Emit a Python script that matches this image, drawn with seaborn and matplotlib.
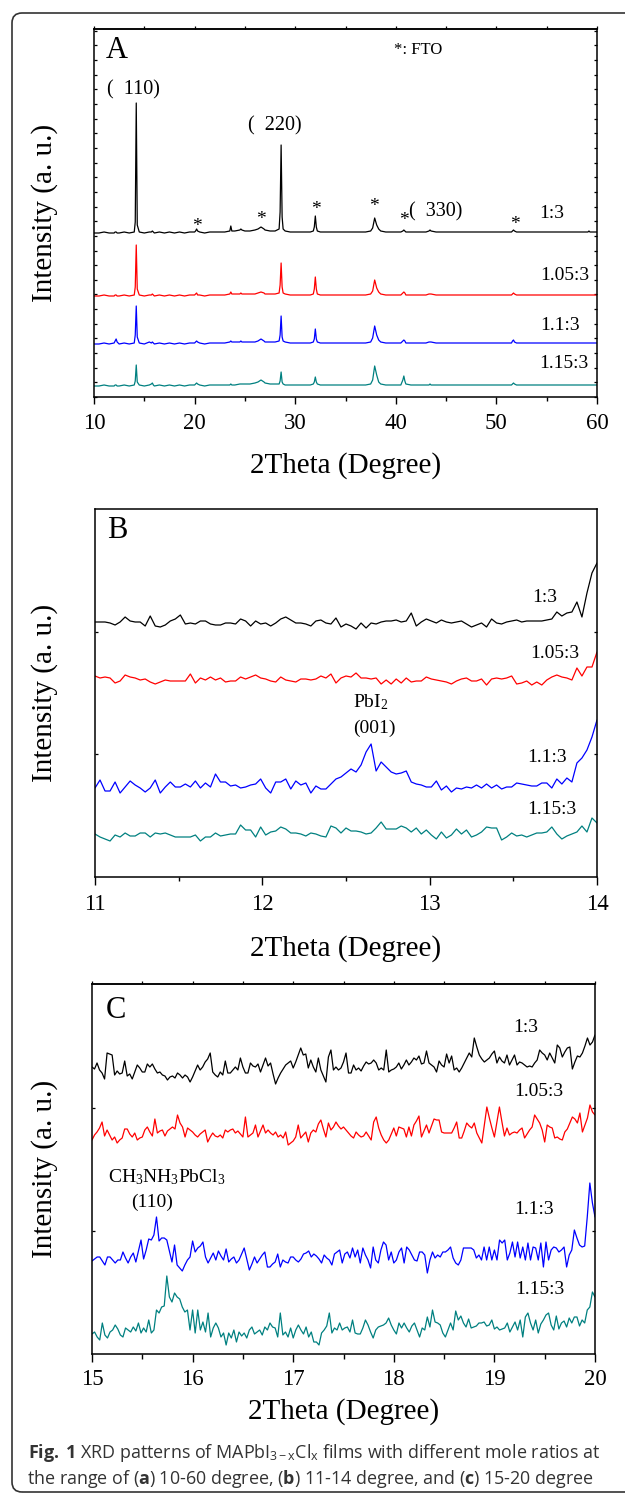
import numpy as np
import pandas as pd
import matplotlib
matplotlib.use("Agg")
import matplotlib.pyplot as plt
import seaborn as sns
from matplotlib.ticker import MultipleLocator, FixedLocator, NullFormatter
from matplotlib.patches import FancyBboxPatch
from matplotlib.transforms import IdentityTransform

# ---------------- data ----------------
ratios = ["1:3", "1.05:3", "1.1:3", "1.15:3"]
colors = ["#000000", "#ff0000", "#0000ff", "#008080"]

# Panel A: 10-60 degree
A_theta = [
    10.0, 10.5, 11.0, 11.5, 12.0, 12.1, 12.2, 12.3, 12.5, 13.0, 13.5, 14.0, 14.1, 14.2, 14.3, 14.5, 15.0, 15.5, 15.7, 15.8, 15.9, 16.0, 16.5, 17.0, 17.5, 18.0, 18.5, 19.0, 19.5,
    20.0, 20.1, 20.2, 20.3, 20.5, 21.0, 21.5, 22.0, 22.5, 23.0, 23.5, 23.6, 23.7, 24.0, 24.5, 24.6, 24.7, 25.0, 25.5, 26.0, 26.3, 26.6, 26.9, 27.0, 27.5, 28.0, 28.4, 28.5, 28.6, 28.7, 28.8, 29.0, 29.5,
    30.0, 30.5, 31.0, 31.5, 31.8, 31.9, 32.0, 32.1, 32.2, 32.5, 33.0, 33.5, 34.0, 34.5, 35.0, 35.5, 36.0, 36.5, 37.0, 37.5, 37.7, 37.9, 38.1, 38.3, 38.5, 39.0, 39.5,
    40.0, 40.5, 40.7, 40.8, 40.9, 41.0, 41.5, 42.0, 42.5, 43.0, 43.3, 43.4, 43.5, 44.0, 44.5, 45.0, 45.5, 46.0, 46.5, 47.0, 47.5, 48.0, 48.5, 49.0, 49.5,
    50.0, 50.5, 51.0, 51.5, 51.6, 51.7, 51.8, 52.0, 52.5, 53.0, 53.5, 54.0, 54.5, 55.0, 55.5, 56.0, 56.5, 57.0, 57.5, 58.0, 58.5, 59.0, 59.1, 59.2, 59.3, 59.5, 60.0,
]
A_13 = [
    164, 164, 165, 164, 164, 165, 165, 164, 164, 165, 164, 165, 175, 294, 172, 165, 164, 165, 165, 166, 165, 164, 165, 164, 165, 164, 165, 164, 165,
    165, 166, 168, 166, 165, 164, 165, 165, 165, 165, 166, 171, 166, 166, 167, 168, 167, 166, 166, 167, 168, 170, 168, 167, 166, 166, 168, 185, 252, 180, 168, 166, 165,
    165, 165, 165, 165, 166, 170, 181, 170, 166, 165, 165, 165, 165, 165, 165, 165, 165, 165, 165, 166, 169, 179, 172, 168, 166, 165, 165,
    165, 165, 166, 167, 166, 165, 165, 165, 165, 165, 166, 167, 166, 165, 165, 165, 165, 165, 165, 165, 165, 165, 165, 165, 165,
    165, 165, 165, 165, 166, 167, 166, 165, 165, 165, 165, 165, 165, 165, 165, 165, 165, 165, 165, 165, 165, 165, 165, 166, 165, 165, 165,
]
A_105 = [
    101, 101, 102, 101, 101, 102, 102, 101, 101, 102, 101, 102, 110, 152, 108, 102, 101, 102, 102, 103, 102, 101, 102, 101, 102, 101, 102, 101, 102,
    102, 103, 104, 102, 102, 101, 102, 102, 102, 102, 103, 105, 103, 103, 103, 104, 103, 103, 103, 103, 104, 105, 104, 103, 103, 103, 104, 112, 134, 110, 104, 103, 102,
    102, 102, 102, 102, 103, 108, 120, 108, 103, 102, 102, 102, 102, 102, 102, 102, 102, 102, 102, 103, 106, 117, 109, 105, 103, 102, 102,
    102, 102, 104, 105, 104, 102, 102, 102, 102, 102, 103, 103, 103, 102, 102, 102, 102, 102, 102, 102, 102, 102, 102, 102, 102,
    102, 102, 102, 102, 103, 104, 103, 102, 102, 102, 102, 102, 102, 102, 102, 102, 102, 102, 102, 102, 102, 102, 102, 102, 102, 102, 102,
]
A_11 = [
    53, 53, 54, 53, 54, 56, 58, 55, 53, 54, 53, 54, 62, 91, 60, 54, 53, 55, 54, 55, 54, 53, 54, 53, 54, 53, 54, 53, 54,
    54, 55, 56, 55, 54, 53, 54, 54, 54, 54, 55, 56, 55, 55, 55, 56, 55, 55, 55, 55, 56, 58, 56, 55, 55, 55, 56, 62, 81, 60, 56, 55, 54,
    54, 54, 54, 54, 55, 58, 68, 58, 55, 54, 54, 54, 54, 54, 54, 54, 54, 54, 54, 55, 59, 71, 62, 57, 55, 54, 54,
    54, 54, 56, 57, 56, 54, 54, 54, 54, 54, 55, 55, 55, 54, 54, 54, 54, 54, 54, 54, 54, 54, 54, 54, 54,
    54, 54, 54, 54, 56, 57, 55, 54, 54, 54, 54, 54, 54, 54, 54, 54, 54, 54, 54, 54, 54, 54, 54, 54, 54, 54, 54,
]
A_115 = [
    11, 11, 12, 11, 11, 12, 12, 11, 11, 12, 11, 12, 16, 32, 15, 12, 11, 12, 13, 14, 12, 11, 12, 11, 12, 11, 12, 11, 12,
    12, 13, 14, 13, 12, 11, 12, 12, 12, 12, 12, 13, 12, 12, 13, 13, 13, 13, 13, 14, 15, 17, 15, 14, 13, 13, 13, 16, 25, 15, 13, 12, 12,
    12, 12, 12, 12, 13, 15, 20, 15, 13, 12, 12, 12, 12, 12, 12, 12, 12, 12, 12, 13, 17, 31, 22, 15, 13, 12, 12,
    12, 12, 17, 21, 16, 13, 12, 12, 12, 12, 12, 13, 12, 12, 12, 12, 12, 12, 12, 12, 12, 12, 12, 12, 12,
    12, 12, 12, 12, 13, 14, 13, 12, 12, 12, 12, 12, 12, 12, 12, 12, 12, 12, 12, 12, 12, 12, 12, 12, 12, 12, 12,
]

# Panel B: 11-14 degree (uniform scan)
B_13 = [255, 255, 255, 254, 252, 255, 260, 256, 255, 255, 251, 261, 251, 250, 252, 256, 258, 262, 253, 254,
        253, 256, 256, 253, 252, 252, 254, 254, 253, 258, 256, 251, 256, 253, 254, 251, 254, 258, 260, 257,
        254, 254, 253, 251, 256, 257, 254, 253, 259, 250, 253, 251, 248, 254, 249, 254, 253, 255, 256, 256,
        257, 255, 256, 264, 251, 255, 258, 256, 254, 257, 255, 254, 255, 256, 253, 250, 252, 254, 250, 258,
        254, 253, 255, 256, 257, 255, 256, 256, 256, 256, 257, 258, 265, 261, 264, 265, 275, 260, 284, 304, 314]
B_105 = [201, 199, 200, 199, 194, 196, 202, 200, 199, 197, 198, 195, 193, 195, 197, 196, 196, 196, 196, 203,
         194, 199, 197, 200, 197, 199, 195, 196, 196, 200, 198, 200, 202, 199, 198, 196, 195, 200, 197, 196,
         195, 198, 198, 197, 198, 201, 199, 203, 194, 199, 201, 200, 204, 199, 199, 198, 199, 193, 197, 193,
         198, 194, 199, 195, 196, 196, 200, 198, 197, 196, 195, 193, 196, 198, 199, 196, 196, 198, 192, 198,
         199, 198, 199, 201, 193, 194, 196, 192, 195, 192, 197, 200, 202, 200, 199, 197, 209, 201, 210, 210, 225]
B_11 = [89, 97, 86, 86, 95, 84, 90, 96, 92, 89, 85, 89, 97, 84, 90, 95, 90, 90, 93, 90,
        96, 89, 94, 90, 103, 95, 95, 91, 92, 89, 90, 92, 93, 98, 89, 84, 95, 95, 98, 88,
        96, 92, 94, 84, 91, 88, 88, 93, 98, 100, 104, 108, 105, 112, 125, 133, 106, 115, 110, 105,
        103, 104, 106, 95, 93, 92, 90, 90, 96, 87, 91, 85, 89, 88, 90, 89, 92, 89, 93, 89,
        92, 88, 90, 90, 94, 93, 92, 91, 91, 94, 94, 89, 98, 93, 99, 95, 114, 119, 127, 140, 157]
B_115 = [43, 40, 38, 36, 42, 40, 44, 41, 41, 44, 44, 40, 44, 43, 44, 42, 40, 40, 40, 40,
         42, 36, 40, 40, 44, 41, 42, 43, 43, 52, 47, 47, 40, 50, 42, 45, 46, 50, 48, 44,
         44, 43, 41, 44, 43, 41, 40, 51, 49, 44, 49, 46, 46, 45, 43, 44, 49, 55, 48, 48,
         48, 51, 49, 45, 49, 43, 47, 42, 38, 45, 39, 42, 48, 43, 47, 40, 42, 45, 50, 49,
         49, 37, 40, 44, 41, 42, 40, 42, 44, 44, 45, 50, 43, 38, 41, 43, 45, 51, 45, 59, 54]

# Panel C: 15-20 degree (uniform scan)
C_13 = [287, 285, 291, 284, 281, 275, 301, 300, 299, 279, 283, 280, 281, 293, 278, 280, 275, 282, 289, 286,
        282, 282, 290, 287, 290, 285, 281, 282, 279, 278, 274, 277, 278, 276, 281, 279, 276, 279, 277, 272,
        277, 283, 289, 284, 287, 292, 295, 301, 282, 279, 277, 282, 279, 293, 281, 281, 284, 287, 284, 296,
        287, 281, 281, 291, 288, 287, 290, 282, 289, 296, 288, 291, 280, 270, 276, 281, 285, 289, 291, 293,
        286, 292, 299, 306, 299, 300, 286, 294, 287, 282, 296, 284, 278, 272, 297, 304, 284, 287, 284, 286,
        292, 301, 281, 281, 289, 284, 286, 283, 288, 292, 290, 291, 294, 291, 284, 286, 284, 304, 282, 284,
        285, 287, 291, 285, 289, 294, 289, 292, 296, 294, 298, 290, 291, 303, 291, 289, 287, 282, 293, 289,
        287, 300, 291, 298, 284, 286, 282, 286, 291, 296, 301, 297, 316, 307, 299, 295, 292, 294, 296, 300,
        303, 291, 297, 293, 291, 299, 289, 294, 299, 289, 292, 291, 289, 287, 288, 287, 291, 294, 304, 301,
        299, 294, 301, 296, 291, 309, 306, 297, 302, 306, 307, 285, 292, 298, 297, 301, 308, 316, 309, 312, 319]
C_105 = [214, 219, 222, 226, 232, 218, 224, 219, 214, 217, 211, 214, 216, 225, 225, 220, 217, 221, 214, 216,
         217, 224, 227, 222, 218, 235, 221, 223, 224, 218, 223, 225, 227, 225, 239, 231, 227, 217, 226, 224,
         222, 219, 217, 220, 222, 224, 212, 217, 221, 218, 217, 219, 216, 224, 222, 224, 225, 221, 223, 220,
         217, 237, 217, 219, 221, 229, 217, 223, 229, 221, 224, 221, 219, 222, 217, 219, 216, 222, 209, 211,
         213, 217, 229, 216, 219, 222, 212, 221, 224, 222, 230, 234, 225, 217, 231, 224, 227, 232, 228, 225,
         227, 224, 221, 218, 216, 222, 219, 217, 218, 222, 218, 214, 232, 237, 226, 219, 214, 211, 214, 220,
         226, 218, 227, 226, 225, 217, 227, 218, 229, 233, 238, 217, 223, 229, 221, 228, 235, 234, 234, 222,
         221, 221, 221, 221, 226, 232, 216, 216, 223, 231, 228, 226, 231, 221, 216, 211, 229, 247, 236, 226,
         217, 232, 247, 232, 218, 226, 219, 221, 222, 221, 224, 226, 216, 220, 224, 227, 239, 235, 231, 224,
         212, 229, 227, 226, 216, 217, 215, 214, 222, 225, 231, 237, 235, 231, 241, 222, 229, 236, 249, 242, 239]
C_11 = [93, 95, 97, 97, 93, 89, 97, 97, 94, 91, 94, 94, 102, 96, 91, 97, 101, 92, 103, 114,
        95, 104, 115, 114, 119, 137, 113, 116, 116, 114, 103, 92, 109, 89, 86, 83, 89, 94, 97, 113,
        102, 106, 108, 112, 97, 91, 96, 101, 94, 103, 98, 94, 105, 92, 95, 97, 91, 94, 100, 106,
        95, 84, 90, 97, 91, 95, 99, 102, 87, 87, 90, 92, 100, 87, 94, 92, 91, 97, 97, 94,
        92, 95, 100, 101, 103, 97, 100, 98, 95, 91, 99, 96, 94, 89, 100, 102, 104, 91, 100,
        102, 96, 106, 97, 104, 91, 106, 99, 94, 86, 107, 94, 91, 104, 112, 109, 94, 102, 91, 94,
        102, 106, 91, 107, 104, 99, 94, 93, 102, 102, 99, 81, 94, 102, 96, 99, 97, 102, 102, 104,
        107, 96, 91, 89, 94, 106, 106, 106, 106, 104, 96, 99, 94, 107, 94, 107, 94, 104, 94, 114,
        111, 114, 94, 101, 112, 97, 112, 96, 107, 94, 111, 94, 107, 106, 94, 111, 87, 112, 94, 104,
        107, 106, 102, 104, 107, 87, 99, 104, 124, 116, 109, 107, 108, 137, 171, 151, 137]
C_115 = [20, 22, 17, 14, 31, 19, 16, 22, 24, 29, 25, 19, 17, 26, 24, 22, 27, 23, 31, 21,
         26, 22, 34, 21, 24, 44, 41, 47, 48, 78, 57, 52, 61, 57, 55, 47, 42, 44, 24, 44,
         21, 44, 24, 32, 22, 41, 17, 26, 31, 26, 17, 21, 9, 21, 16, 24, 12, 22, 18, 21,
         16, 24, 27, 20, 22, 24, 19, 27, 24, 31, 27, 26, 17, 41, 19, 22, 17, 26, 16, 24,
         29, 24, 20, 27, 17, 22, 12, 12, 9, 21, 24, 28, 41, 21, 26, 24, 31, 24, 26,
         27, 22, 34, 21, 20, 20, 26, 34, 29, 22, 16, 24, 27, 28, 29, 31, 36, 29, 24, 20,
         31, 26, 31, 26, 22, 28, 31, 24, 17, 26, 24, 37, 27, 44, 32, 31, 29, 21, 17, 24,
         31, 24, 43, 34, 38, 31, 27, 35, 26, 27, 28, 31, 31, 32, 28, 29, 34, 25, 27, 24,
         25, 26, 31, 22, 27, 32, 24, 34, 17, 37, 41, 31, 24, 34, 21, 30, 34, 39, 41, 29,
         24, 38, 25, 31, 33, 27, 36, 31, 37, 37, 28, 34, 31, 44, 47, 62, 57]


def long_df(theta_lists, value_lists):
    frames = []
    for th, v, r in zip(theta_lists, value_lists, ratios):
        frames.append(pd.DataFrame({"theta": th, "intensity": v, "ratio": r}))
    return pd.concat(frames, ignore_index=True)


dfA = long_df([A_theta] * 4, [A_13, A_105, A_11, A_115])
dfB = long_df([np.linspace(11, 14, len(v)) for v in (B_13, B_105, B_11, B_115)],
              [B_13, B_105, B_11, B_115])
dfC = long_df([np.linspace(15, 20, len(v)) for v in (C_13, C_105, C_11, C_115)],
              [C_13, C_105, C_11, C_115])

# ---------------- style ----------------
sns.set_style("ticks")
plt.rcParams.update({
    "font.family": ["Liberation Serif", "DejaVu Serif"],
    "mathtext.fontset": "custom",
    "mathtext.rm": "Liberation Serif",
    "mathtext.it": "Liberation Serif:italic",
    "mathtext.bf": "Open Sans:bold",
    "axes.linewidth": 1.1,
    "axes.edgecolor": "black",
    "xtick.color": "black",
    "ytick.color": "black",
    "text.color": "black",
    "axes.facecolor": "white",
})

W, H = 625, 1495
fig = plt.figure(figsize=(W / 100, H / 100), dpi=100)
pal = dict(zip(ratios, colors))


def add_axes_px(l, t, r, b):
    return fig.add_axes([l / W, 1 - b / H, (r - l) / W, (b - t) / H])


axA = add_axes_px(94, 29, 597, 397)
axB = add_axes_px(95, 509, 597, 877)
axC = add_axes_px(92, 984, 595, 1354)

for ax, df in ((axA, dfA), (axB, dfB), (axC, dfC)):
    sns.lineplot(data=df, x="theta", y="intensity", hue="ratio", palette=pal,
                 estimator=None, sort=False, legend=False, lw=0.9, ax=ax)
    ax.set_xlabel("")
    ax.set_ylabel("")
    for s in ax.spines.values():
        s.set_visible(True)
        s.set_linewidth(1.1)

# --- Panel A axes ---
axA.set_xlim(10, 60)
axA.set_ylim(0, 368)
axA.xaxis.set_major_locator(MultipleLocator(10))
axA.xaxis.set_minor_locator(MultipleLocator(5))
axA.yaxis.set_major_locator(FixedLocator(np.arange(0, 368, 14.65)))
axA.yaxis.set_major_formatter(NullFormatter())
axA.tick_params(axis="x", which="major", direction="out", length=5, width=1.0,
                labelsize=16.5, pad=6.5, top=False)
axA.tick_params(axis="x", which="minor", direction="out", length=3, width=1.0, top=False)
axA.tick_params(axis="y", which="major", direction="in", length=2.2, width=0.9,
                left=True, right=True, labelleft=False)
secA = axA.secondary_xaxis("top")
secA.xaxis.set_major_locator(MultipleLocator(5))
secA.tick_params(axis="x", direction="out", length=2.2, width=0.9, labeltop=False)
secA.spines["top"].set_linewidth(1.1)

# --- Panel B axes ---
axB.set_xlim(11, 14)
axB.set_ylim(0, 368)
axB.xaxis.set_major_locator(MultipleLocator(1))
axB.xaxis.set_minor_locator(MultipleLocator(0.5))
axB.yaxis.set_major_locator(FixedLocator([122.7, 245.3]))
axB.yaxis.set_major_formatter(NullFormatter())
axB.tick_params(axis="x", which="major", direction="out", length=5.5, width=1.0,
                labelsize=16.5, pad=6.5)
axB.tick_params(axis="x", which="minor", direction="out", length=3, width=1.0)
axB.tick_params(axis="y", which="major", direction="in", length=2.5, width=0.9,
                left=True, right=True, labelleft=False)

# --- Panel C axes ---
axC.set_xlim(15, 20)
axC.set_ylim(0, 370)
axC.xaxis.set_major_locator(MultipleLocator(1))
axC.xaxis.set_minor_locator(MultipleLocator(0.5))
axC.yaxis.set_major_locator(FixedLocator([123, 246]))
axC.yaxis.set_major_formatter(NullFormatter())
axC.tick_params(axis="x", which="major", direction="out", length=5.5, width=1.0,
                labelsize=16.5, pad=5)
axC.tick_params(axis="x", which="minor", direction="out", length=3.5, width=1.0)
axC.tick_params(axis="y", which="major", direction="in", length=2.5, width=0.9,
                left=True, right=True, labelleft=False)
secC = axC.secondary_xaxis("top")
secC.xaxis.set_major_locator(MultipleLocator(0.5))
secC.tick_params(axis="x", direction="out", length=2.2, width=0.9, labeltop=False)

# ---------------- texts ----------------
LBL = 14
# Panel A
axA.text(11.2, 347, "A", fontsize=22, ha="left", va="center")
axA.text(42.2, 347, "*: FTO", fontsize=12, ha="center", va="center")
axA.text(13.9, 307, "(  110)", fontsize=14.5, ha="center", va="center")
axA.text(28.0, 271, "(  220)", fontsize=14.5, ha="center", va="center")
axA.text(44.0, 185, "(  330)", fontsize=14.5, ha="center", va="center")
for xs, ys in ((20.2, 176), (26.55, 183), (32.1, 193), (37.8, 196), (40.8, 182), (51.8, 178)):
    axA.text(xs, ys - 10, "*", fontsize=14, ha="center", va="baseline")
axA.text(55.5, 183, "1:3", fontsize=LBL, ha="center", va="center")
axA.text(56.8, 121, "1.05:3", fontsize=LBL, ha="center", va="center")
axA.text(56.3, 72, "1.1:3", fontsize=LBL, ha="center", va="center")
axA.text(56.7, 34, "1.15:3", fontsize=LBL, ha="center", va="center")

# Panel B
axB.text(11.07, 347, "B", fontsize=22, ha="left", va="center")
axB.text(13.69, 280, "1:3", fontsize=LBL, ha="center", va="center")
axB.text(13.75, 224, "1.05:3", fontsize=LBL, ha="center", va="center")
axB.text(13.70, 119, "1.1:3", fontsize=LBL, ha="center", va="center")
axB.text(13.73, 67, "1.15:3", fontsize=LBL, ha="center", va="center")
axB.text(12.65, 175, r"PbI$_{\mathregular{2}}$", fontsize=LBL, ha="center", va="center")
axB.text(12.67, 149, "(001)", fontsize=LBL, ha="center", va="center")

# Panel C
axC.text(15.14, 344, "C", fontsize=22, ha="left", va="center")
axC.text(19.31, 327, "1:3", fontsize=LBL, ha="center", va="center")
axC.text(19.44, 263, "1.05:3", fontsize=LBL, ha="center", va="center")
axC.text(19.39, 145, "1.1:3", fontsize=LBL, ha="center", va="center")
axC.text(19.45, 65, "1.15:3", fontsize=LBL, ha="center", va="center")
axC.text(15.74, 177, r"CH$_{\mathregular{3}}$NH$_{\mathregular{3}}$PbCl$_{\mathregular{3}}$",
         fontsize=LBL, ha="center", va="center")
axC.text(15.60, 152, "(110)", fontsize=LBL, ha="center", va="center")

# axis labels (figure pixel positions)
for (cx, cy) in ((345.5, 466), (346, 949), (343.5, 1412)):
    fig.text(cx / W, 1 - cy / H, "2Theta (Degree)", fontsize=21, ha="center", va="center")
for cy in (213, 693, 1169):
    fig.text(45 / W, 1 - cy / H, "Intensity (a. u.)", fontsize=21, rotation=90,
             ha="center", va="center")

# outer rounded frame
frame = FancyBboxPatch((12, H - 1492), 700, 1492 - 13,
                       boxstyle="round,pad=0,rounding_size=10",
                       transform=IdentityTransform(), fill=False,
                       edgecolor="#333333", linewidth=1.2)
fig.add_artist(frame)

# caption
cap_kw = dict(fontsize=12.9, family=["Open Sans", "DejaVu Sans"], color="#333333",
              ha="left", va="baseline")
fig.text(28 / W, 1 - 1458 / H,
         r"$\mathbf{Fig.\ 1}$ XRD patterns of MAPbI$_{\mathregular{3-x}}$Cl$_{\mathregular{x}}$ films with different mole ratios at",
         **cap_kw)
fig.text(27 / W, 1 - 1484 / H,
         r"the range of ($\mathbf{a}$) 10-60 degree, ($\mathbf{b}$) 11-14 degree, and ($\mathbf{c}$) 15-20 degree",
         **cap_kw)

fig.savefig("out.png", dpi=100)
